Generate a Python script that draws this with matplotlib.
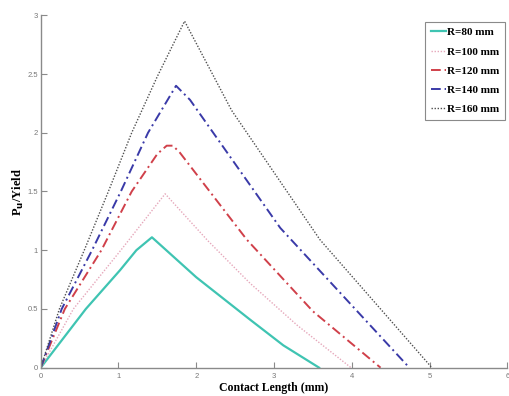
import matplotlib
matplotlib.use("Agg")
import matplotlib.pyplot as plt

# Data
x_80 = [0, 0.58, 1.02, 1.23, 1.43, 2.0, 2.69, 3.12, 3.58]
y_80 = [0, 0.50, 0.83, 1.00, 1.11, 0.77, 0.41, 0.19, 0]

x_100 = [0, 0.42, 1.03, 1.60, 2.15, 2.69, 3.30, 3.99]
y_100 = [0, 0.50, 1.00, 1.48, 1.08, 0.72, 0.36, 0]

x_120 = [0, 0.31, 0.78, 1.17, 1.50, 1.62, 1.70, 1.79, 2.65, 3.50, 4.37]
y_120 = [0, 0.50, 1.00, 1.50, 1.82, 1.89, 1.89, 1.83, 1.09, 0.48, 0]

x_140 = [0, 0.27, 0.66, 1.03, 1.38, 1.74, 1.92, 3.08, 4.74]
y_140 = [0, 0.50, 1.00, 1.50, 2.00, 2.40, 2.28, 1.19, 0]

x_160 = [0, 0.24, 0.56, 0.87, 1.17, 1.50, 1.85, 2.455, 3.59, 5.03]
y_160 = [0, 0.50, 1.00, 1.50, 2.00, 2.48, 2.95, 2.19, 1.09, 0]

labels = ["R=80 mm", "R=100 mm", "R=120 mm", "R=140 mm", "R=160 mm"]
xticks = [0, 1, 2, 3, 4, 5, 6]
yticks = [0, 0.5, 1, 1.5, 2, 2.5, 3]
ytick_labels = ["0", "0.5", "1", "1.5", "2", "2.5", "3"]

fig = plt.figure(figsize=(5.09, 3.96), dpi=100)
ax = fig.add_axes([0.080, 0.0715, 0.9167, 0.8899])

ax.plot(x_80, y_80, color="#3fc4b2", lw=1.6, linestyle="-", label=labels[0])
ax.plot(x_100, y_100, color="#e6a8bb", lw=1.0, linestyle=(0, (1, 1.2)), label=labels[1])
ax.plot(x_120, y_120, color="#d0404a", lw=1.4, linestyle=(0, (5, 2, 1, 2)), label=labels[2])
ax.plot(x_140, y_140, color="#3a3aa8", lw=1.4, linestyle=(0, (5, 2, 1, 2)), label=labels[3])
ax.plot(x_160, y_160, color="#505050", lw=1.0, linestyle=(0, (1, 1.2)), label=labels[4])

ax.set_xlim(0, 6)
ax.set_ylim(0, 3)
ax.set_xticks(xticks)
ax.set_xticklabels([str(t) for t in xticks])
ax.set_yticks(yticks)
ax.set_yticklabels(ytick_labels)

for s in ["top", "right"]:
    ax.spines[s].set_visible(False)
for s in ["left", "bottom"]:
    ax.spines[s].set_color("#8a8a8a")
    ax.spines[s].set_linewidth(1.0)

ax.tick_params(direction="in", length=4, width=0.8, color="#8a8a8a",
               labelsize=5.5, labelcolor="#777777")
ax.tick_params(axis="x", pad=4)
ax.tick_params(axis="y", pad=2)
for lab in ax.get_xticklabels() + ax.get_yticklabels():
    lab.set_family("Liberation Sans")

ax.set_xlabel("Contact Length (mm)", family="Liberation Serif", fontweight="bold",
              fontsize=8.5, labelpad=1)
ax.set_ylabel(r"P$_\mathbf{u}$/Yield", family="Liberation Serif", fontweight="bold",
              fontsize=9, labelpad=1)

leg = ax.legend(loc="upper right", bbox_to_anchor=(0.995, 0.981), borderaxespad=0,
                fancybox=False, framealpha=1, edgecolor="#8a8a8a",
                prop={"family": "Liberation Serif", "weight": "bold", "size": 8},
                handlelength=1.35, handletextpad=0.15, labelspacing=0.85,
                borderpad=0.5)
leg.get_frame().set_linewidth(0.8)

fig.savefig("out.png", dpi=100)
